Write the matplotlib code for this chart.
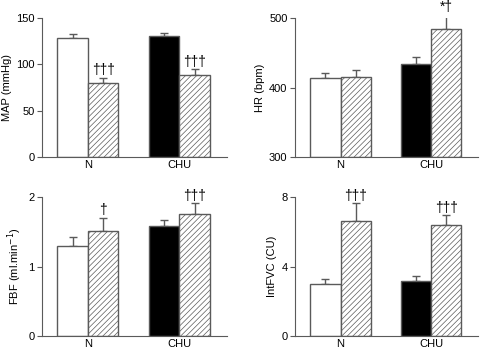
import matplotlib.pyplot as plt
import numpy as np

plt.rcParams['font.family'] = ['Liberation Sans', 'DejaVu Sans']
plt.rcParams['hatch.color'] = '#9a9a9a'
plt.rcParams['hatch.linewidth'] = 0.5

groups = ["N", "CHU"]

map_vals = [128.3, 80.2, 131.2, 88.2]
map_err = [5.1, 5.5, 2.5, 6.5]
hr_vals = [413.3, 414.7, 434.5, 484.1]
hr_err = [7.2, 10.1, 9.6, 21.2]
fbf_vals = [1.295, 1.516, 1.583, 1.760]
fbf_err = [0.13, 0.19, 0.09, 0.15]
fvc_vals = [2.99, 6.60, 3.19, 6.39]
fvc_err = [0.29, 1.05, 0.25, 0.56]

map_marks = ["", "†††", "", "†††"]
hr_marks = ["", "", "", "*†"]
fbf_marks = ["", "†", "", "†††"]
fvc_marks = ["", "†††", "", "†††"]

pos = [0, 1, 3, 4]
faces = ["white", "white", "black", "white"]
hatches = [None, "//////", None, "//////"]
edge = "#5a5a5a"

fig = plt.figure(figsize=(4.8, 3.49), dpi=100)

panels = [
    ([0.0875, 0.550, 0.385, 0.398], map_vals, map_err, map_marks, "MAP (mmHg)", (0, 150), [0, 50, 100, 150]),
    ([0.615, 0.550, 0.381, 0.398], hr_vals, hr_err, hr_marks, "HR (bpm)", (300, 500), [300, 400, 500]),
    ([0.0875, 0.037, 0.385, 0.398], fbf_vals, fbf_err, fbf_marks, "FBF (ml.min$^{-1}$)", (0, 2), [0, 1, 2]),
    ([0.615, 0.037, 0.381, 0.398], fvc_vals, fvc_err, fvc_marks, "IntFVC (CU)", (0, 8), [0, 4, 8]),
]

for rect, vals, err, marks, ylab, ylim, yt in panels:
    ax = fig.add_axes(rect)
    base = ylim[0]
    for p, v, e, fc, h in zip(pos, vals, err, faces, hatches):
        ax.bar(p, v - base, bottom=base, width=1.0, color=fc, edgecolor=edge,
               linewidth=1.0, hatch=h, zorder=2)
        ax.errorbar(p, v, yerr=[[0], [e]], fmt="none", ecolor=edge,
                    elinewidth=1.0, capsize=3, capthick=1.0, zorder=1)
    span = ylim[1] - ylim[0]
    for p, v, e, m in zip(pos, vals, err, marks):
        if m:
            ax.text(p, v + e + span * 0.005, m, ha="center", va="bottom",
                    fontsize=10, color="black", clip_on=False)
    ax.set_xlim(-1.0, 5.05)
    ax.set_ylim(*ylim)
    ax.set_yticks(yt)
    ax.set_xticks([0.5, 3.5])
    ax.set_xticklabels(groups)
    ax.tick_params(axis="x", length=0, labelsize=8, pad=2)
    ax.tick_params(axis="y", length=3.5, width=0.8, color=edge, labelsize=8, pad=2)
    ax.set_ylabel(ylab, fontsize=8, labelpad=3)
    for s in ["top", "right"]:
        ax.spines[s].set_visible(False)
    for s in ["left", "bottom"]:
        ax.spines[s].set_color(edge)
        ax.spines[s].set_linewidth(0.8)
    ax.patch.set_alpha(0)

fig.savefig("out.png", dpi=100)
